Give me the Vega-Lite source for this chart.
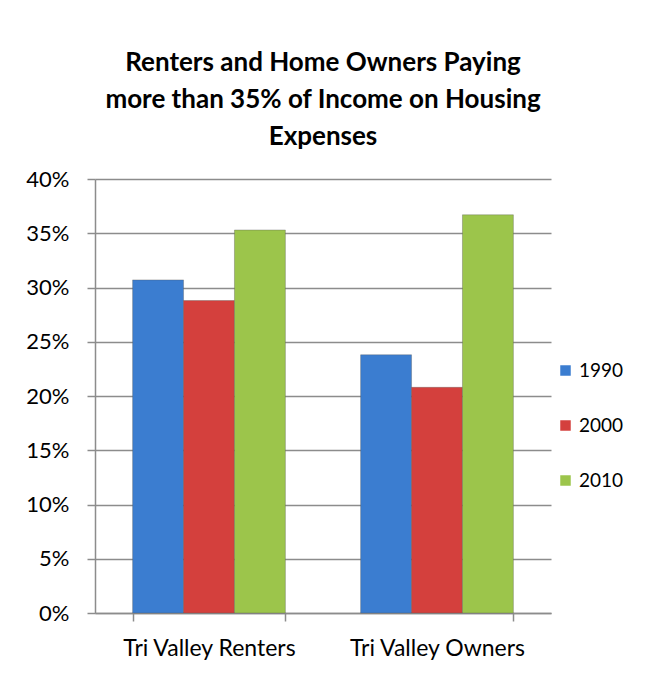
{
  "$schema": "https://vega.github.io/schema/vega-lite/v6.json",
  "autosize": {"type": "none"},
  "width": 456,
  "height": 434,
  "padding": {"left": 95, "top": 179, "right": 118, "bottom": 63},
  "background": "white",
  "title": {
    "text": ["Renters and Home Owners Paying", "more than 35% of Income on Housing", "Expenses"],
    "font": "Lato",
    "fontSize": 26,
    "fontWeight": "bold",
    "color": "#000000",
    "lineHeight": 37,
    "anchor": "middle",
    "offset": 18
  },
  "data": {
    "values": [
      {"group": "Tri Valley Renters", "year": "1990", "value": 0.307},
      {"group": "Tri Valley Renters", "year": "2000", "value": 0.288},
      {"group": "Tri Valley Renters", "year": "2010", "value": 0.353},
      {"group": "Tri Valley Owners", "year": "1990", "value": 0.238},
      {"group": "Tri Valley Owners", "year": "2000", "value": 0.208},
      {"group": "Tri Valley Owners", "year": "2010", "value": 0.367}
    ]
  },
  "mark": {"type": "bar", "stroke": "#555555", "strokeOpacity": 0.35, "strokeWidth": 1},
  "encoding": {
    "x": {
      "field": "group",
      "type": "nominal",
      "sort": ["Tri Valley Renters", "Tri Valley Owners"],
      "scale": {"paddingInner": 0.33, "paddingOuter": 0.165},
      "axis": {
        "title": null,
        "labelAngle": 0,
        "labelFont": "Lato",
        "labelFontSize": 23,
        "labelColor": "#000000",
        "labelPadding": 16,
        "tickBand": "extent",
        "tickSize": 8,
        "tickColor": "#8c8c8c",
        "domainColor": "#8c8c8c",
        "domainWidth": 1.5,
        "tickWidth": 1.5,
        "grid": false
      }
    },
    "xOffset": {"field": "year", "type": "nominal"},
    "y": {
      "field": "value",
      "type": "quantitative",
      "scale": {"domain": [0, 0.4]},
      "axis": {
        "title": null,
        "values": [0, 0.05, 0.1, 0.15, 0.2, 0.25, 0.3, 0.35, 0.4],
        "format": ".0%",
        "labelFont": "Lato",
        "labelFontSize": 22,
        "labelColor": "#000000",
        "labelPadding": 18,
        "tickSize": 8,
        "tickColor": "#8c8c8c",
        "tickWidth": 1.5,
        "domainColor": "#8c8c8c",
        "domainWidth": 1.5,
        "grid": true,
        "gridColor": "#8c8c8c",
        "gridWidth": 1.5
      }
    },
    "color": {
      "field": "year",
      "type": "nominal",
      "scale": {"domain": ["1990", "2000", "2010"], "range": ["#3b7dd0", "#d4403d", "#9cc54b"]},
      "legend": {
        "title": null,
        "orient": "none",
        "legendX": 461,
        "legendY": 182,
        "symbolType": "square",
        "symbolSize": 110,
        "symbolStrokeWidth": 0,
        "rowPadding": 35,
        "labelFont": "Lato",
        "labelFontSize": 19,
        "labelColor": "#000000",
        "labelOffset": 4
      }
    }
  },
  "config": {"view": {"stroke": null}}
}
